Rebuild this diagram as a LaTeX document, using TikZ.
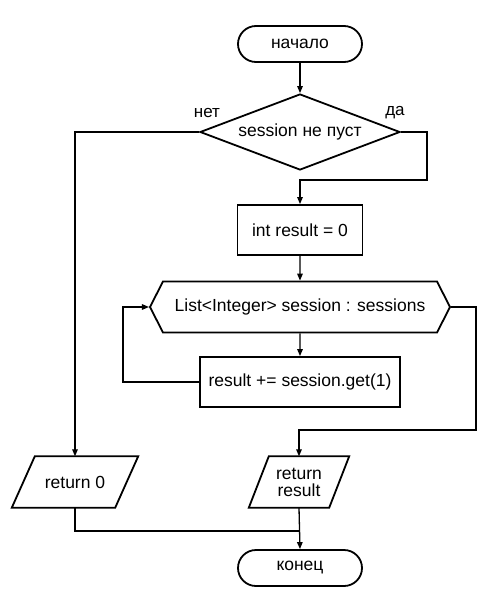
\documentclass[tikz,border=0pt]{standalone}
\usepackage{fontspec}
\setmainfont{Liberation Sans}
\usetikzlibrary{shapes.geometric, shapes.symbols, arrows.meta, positioning, calc}

% parallelogram round a plain node: name, half slant
\newcommand{\iobox}[2]{%
  \draw[line width=1.8pt,line join=miter]
    ($(#1.south west)+(-#2,0)$) -- ($(#1.north west)+(#2,0)$) --
    ($(#1.north east)+(#2,0)$) -- ($(#1.south east)+(-#2,0)$) -- cycle;}

\begin{document}
\begin{tikzpicture}[x=1pt,y=-1pt,
  term/.style={rectangle,draw,line width=1.8pt,rounded corners=18pt, minimum width=124pt,minimum height=36pt,align=center,font=\fontsize{17.5}{19}\selectfont},
  dec/.style={diamond,draw,line width=1.8pt,aspect=2.6, minimum width=200pt,minimum height=76pt,inner sep=0pt,align=center,font=\fontsize{17.5}{19}\selectfont},
  proc/.style={rectangle,draw,line width=1.8pt, minimum height=50pt,align=center,font=\fontsize{17.5}{19}\selectfont},
  hexa/.style={signal,signal to=west and east,signal pointer angle=126,draw,line width=1.8pt, minimum width=300pt,minimum height=51pt,inner sep=2pt,align=center,font=\fontsize{17.5}{19}\selectfont},
  io/.style={rectangle,minimum height=51pt,inner sep=1pt,align=center,font=\fontsize{17.5}{17}\selectfont},
  lbl/.style={font=\fontsize{17}{19}\selectfont},
  arr/.style={-{Triangle[length=7pt,width=5.5pt]},line width=1.3pt},
  ln/.style={line width=1.3pt}
]
  \useasboundingbox (0,0) rectangle (500,613);

  \node[term](s0) at (300,44)  {начало};
  \node[dec] (d0) at (300,132) {session не пуст};
  \node[proc,minimum width=125pt](p0) at (300,230) {int result = 0};
  \node[hexa](l0) at (300,307) {List<Integer> session : sessions};
  \node[proc,minimum width=200pt](p1) at (300,382) {result += session.get(1)};
  \node[io,minimum width=103pt](o0) at (75,482)  {return 0};
  \node[io,minimum width=80pt] (o1) at (299,482) {return\\result};
  \node[term](e0) at (300,568) {конец};
  \iobox{o0}{11.5}
  \iobox{o1}{10}

  \node[lbl] at (207,113) {нет};
  \node[lbl] at (395,113) {да};

  \coordinate (j1) at (300,180);
  \coordinate (j2) at (299,430);
  \coordinate (j3) at (300,531);

  \draw[arr](s0)--(d0);
  \draw[arr](d0.west) -| (o0.north);
  \draw[arr](d0.east) -- ++(26,0) |- (j1) -- (p0.north);
  \draw[arr](p0)--(l0);
  \draw[arr](l0)--(p1);
  \draw[arr](p1.west) -- ++(-76,0) |- (l0.west);
  \draw[arr](l0.east) -- ++(25,0) |- (j2) -- (o1.north);
  \draw[ln](o0.south) |- (j3);
  \draw[arr](o1.south) -- (e0.north);
\end{tikzpicture}
\end{document}
